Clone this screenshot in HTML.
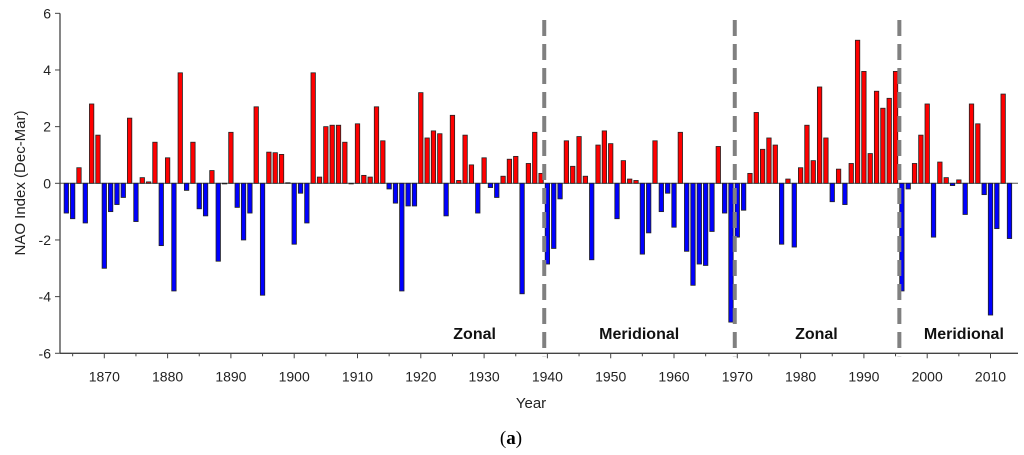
<!DOCTYPE html>
<html><head><meta charset="utf-8"><style>
html,body{margin:0;padding:0;background:#fff;width:1024px;height:455px;overflow:hidden}
svg{display:block;font-family:"Liberation Sans",Arial,sans-serif}
</style></head><body>
<svg id="chart" width="1024" height="455"></svg>
<script>
const startYear = 1864;
const naoValues = [
-1.05,-1.25,0.55,-1.4,2.8,1.7,-3.0,-1.0,-0.75,-0.5,
2.3,-1.35,0.2,0.05,1.45,-2.2,0.9,-3.8,3.9,-0.25,
1.45,-0.9,-1.15,0.45,-2.75,0.0,1.8,-0.85,-2.0,-1.05,
2.7,-3.95,1.1,1.08,1.02,0.02,-2.15,-0.35,-1.4,3.9,
0.22,2.0,2.05,2.05,1.45,0.0,2.1,0.28,0.22,2.7,
1.5,-0.2,-0.7,-3.8,-0.8,-0.8,3.2,1.6,1.85,1.75,
-1.15,2.4,0.1,1.7,0.65,-1.05,0.9,-0.15,-0.5,0.25,
0.85,0.95,-3.9,0.7,1.8,0.35,-2.85,-2.3,-0.55,1.5,
0.6,1.65,0.25,-2.7,1.35,1.85,1.4,-1.25,0.8,0.15,
0.1,-2.5,-1.75,1.5,-1.0,-0.35,-1.55,1.8,-2.4,-3.6,
-2.85,-2.9,-1.7,1.3,-1.05,-4.9,-1.9,-0.95,0.35,2.5,
1.2,1.6,1.35,-2.15,0.15,-2.25,0.55,2.05,0.8,3.4,
1.6,-0.65,0.5,-0.75,0.7,5.05,3.95,1.05,3.25,2.65,
3.0,3.95,-3.8,-0.2,0.7,1.7,2.8,-1.9,0.75,0.2,
-0.08,0.12,-1.1,2.8,2.1,-0.4,-4.65,-1.6,3.15,-1.95];
const yTicks = [6,4,2,0,-2,-4,-6];
const xTickYears = [1870,1880,1890,1900,1910,1920,1930,1940,1950,1960,1970,1980,1990,2000,2010];
const regimeBreaks = [1939.5,1969.6,1995.6];
const regimeLabels = ["Zonal","Meridional","Zonal","Meridional"];
const regimeLabelYears = [1928.5,1954.5,1982.5,2005.8];

const NS="http://www.w3.org/2000/svg";
const svg=document.getElementById('chart');
function X(yr){return 104.3+(yr-1870)*6.33;}
function Y(v){return 183.3-v*28.33;}
function mk(tag,attrs,parent){const e=document.createElementNS(NS,tag);for(const k in attrs)e.setAttribute(k,attrs[k]);(parent||svg).appendChild(e);return e;}
const L=60, R=1018, B=353.3;

// zero line
let z=mk('line',{x1:L,x2:R,y1:Y(0),y2:Y(0),stroke:'#555','stroke-width':1});



// bars
naoValues.forEach((v,i)=>{
  const yr=startYear+i, cx=X(yr);
  const y0=Y(0), y1=Y(v);
  const r=mk('rect',{x:cx-2.2,y:Math.min(y0,y1),width:4.4,height:Math.max(0.6,Math.abs(y1-y0)),fill:v>=0?'#ff0000':'#0000ff',stroke:'#222','stroke-width':0.8});
  
  
});

// axes
let ya=mk('line',{x1:L,x2:L,y1:Y(6),y2:B,stroke:'#444','stroke-width':1.3});


let xa=mk('line',{x1:L,x2:R,y1:B,y2:B,stroke:'#444','stroke-width':1.3});



yTicks.forEach(t=>{
  mk('line',{x1:L-5,x2:L,y1:Y(t),y2:Y(t),stroke:'#444','stroke-width':1});
  const tx=mk('text',{x:L-9,y:Y(t)+5,'text-anchor':'end','font-size':14,fill:'#222'});
  tx.textContent=t;
  
  
});
for(let yr=1865; yr<=2015; yr+=5){
  const major=yr%10===0;
  if(X(yr)>R) break;
  mk('line',{x1:X(yr),x2:X(yr),y1:B,y2:B+(major?5:3),stroke:'#444','stroke-width':1});
}
xTickYears.forEach(yr=>{
  const tx=mk('text',{x:X(yr),y:B+28,'text-anchor':'middle','font-size':14,fill:'#222'});
  tx.textContent=yr;
  
  
});

regimeBreaks.forEach(yr=>{
  const l=mk('line',{x1:X(yr),x2:X(yr),y1:20,y2:B+3,stroke:'#808080','stroke-width':4,'stroke-dasharray':'16 8'});
  
  
});
regimeLabels.forEach((s,i)=>{
  const t=mk('text',{x:X(regimeLabelYears[i]),y:339,'text-anchor':'middle','font-size':16,'font-weight':'bold',fill:'#111'});
  t.textContent=s;
  
  
});

let yt=mk('text',{x:0,y:0,transform:'translate(25,183) rotate(-90)','text-anchor':'middle','font-size':15,fill:'#222'});
yt.textContent='NAO Index (Dec-Mar)';


let xt=mk('text',{x:531,y:408,'text-anchor':'middle','font-size':15,fill:'#222'});
xt.textContent='Year';


let cap=mk('text',{x:511,y:444,'text-anchor':'middle','font-size':19,'font-family':'"Liberation Serif",serif',fill:'#000'});
cap.innerHTML='(<tspan font-weight="bold">a</tspan>)';


</script>
</body></html>
